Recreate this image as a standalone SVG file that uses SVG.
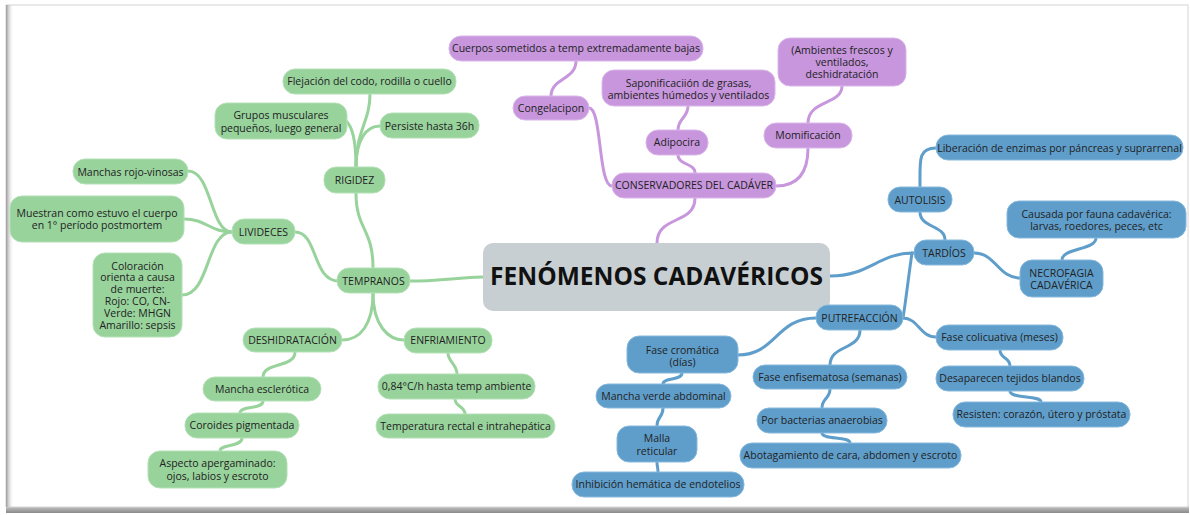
<svg xmlns="http://www.w3.org/2000/svg" width="1190" height="515" viewBox="0 0 1190 515">
<defs>
<linearGradient id="shL" x1="0" y1="0" x2="1" y2="0"><stop offset="0" stop-color="#9a9a9a"/><stop offset="1" stop-color="#ffffff" stop-opacity="0"/></linearGradient>
<linearGradient id="shB" x1="0" y1="0" x2="0" y2="1"><stop offset="0" stop-color="#c8c8c8"/><stop offset="1" stop-color="#8a8a8a"/></linearGradient>
<style>
.t{font-family:"Open Sans","Noto Sans","Liberation Sans",sans-serif;font-size:10.5px;fill:#222222;text-anchor:middle}
.g rect{fill:#98d39c;stroke:#b3e0b6;stroke-width:1}
.p rect{fill:#c796dd;stroke:#dab6ea;stroke-width:1}
.b rect{fill:#5f9ecb;stroke:#86b8dc;stroke-width:1}
.c path{fill:none;stroke-width:3;stroke-linecap:round}
.cg path{stroke:#98d39c}
.cp path{stroke:#c796dd}
.cb path{stroke:#5f9ecb}
</style>
</defs>
<rect x="0" y="0" width="1190" height="515" fill="#ffffff"/>
<rect x="6" y="506" width="1183" height="7" fill="url(#shB)"/>
<rect x="6" y="5" width="1182" height="502" fill="#ffffff" stroke="#d4d4d4" stroke-width="1"/>
<rect x="6" y="5" width="8" height="502" fill="url(#shL)"/>

<g id="connectors" class="c">
<g class="cg">
<path d="M483,277 C450,278 440,281 410,281"/>
<path d="M373,268 C373,228 356,230 356,193"/>
<path d="M339,281 C312,281 318,232 295,232"/>
<path d="M373,293 C373,325 360,340 342,340"/>
<path d="M373,293 C373,325 388,340 404,340"/>
<path d="M356,167 C356,130 370,122 370,94"/>
<path d="M356,167 C356,142 352,126 346,121"/>
<path d="M356,167 C356,140 366,126 380,126"/>
<path d="M232,232 C210,232 212,171 188,171"/>
<path d="M232,232 C210,232 206,219 184,219"/>
<path d="M232,232 C206,232 210,295 182,295"/>
<path d="M295,352 C295,368 263,362 263,377"/>
<path d="M263,401 C263,410 240,405 240,413"/>
<path d="M242,438 C242,447 220,444 220,451"/>
<path d="M448,353 C448,362 457,364 457,374"/>
<path d="M455,399 C455,407 465,406 465,414"/>
</g>
<g class="cp">
<path d="M657,243 C657,215 695,225 695,198"/>
<path d="M589,108 C602,108 598,186 612,186"/>
<path d="M695,173 C695,163 678,165 678,155"/>
<path d="M678,130 C678,118 688,118 688,106"/>
<path d="M776,186 C800,186 808,170 808,148"/>
<path d="M808,123 C808,100 842,105 842,86"/>
<path d="M551,96 C551,78 576,80 576,61"/>
</g>
<g class="cb">
<path d="M830,276 C870,276 878,253 914,253"/>
<path d="M945,240 C945,225 920,228 920,212"/>
<path d="M920,187 C920,160 918,148 936,148"/>
<path d="M974,253 C996,253 998,278 1020,278"/>
<path d="M1062,260 C1062,248 1096,250 1096,238"/>
<path d="M912,253 C908,280 906,300 903,318"/>
<path d="M816,318 C776,318 776,355 738,355"/>
<path d="M860,330 C860,350 830,345 830,365"/>
<path d="M903,318 C918,318 920,337 936,337"/>
<path d="M682,373 C682,381 663,377 663,384"/>
<path d="M663,408 C663,418 657,416 657,426"/>
<path d="M657,462 C657,467 658,467 658,472"/>
<path d="M830,389 C830,399 822,398 822,408"/>
<path d="M822,433 C822,440 850,436 850,443"/>
<path d="M1000,350 C1000,359 1010,357 1010,366"/>
<path d="M1010,391 C1010,399 1041,395 1041,402"/>
</g>
</g>

<g id="n-central"><rect x="483" y="243" width="347" height="68" rx="10" fill="#c8cfd3"/><text x="656.5" y="285" style="font-family:'Open Sans','Noto Sans','Liberation Sans',sans-serif;font-size:24.5px;font-weight:bold;fill:#111;text-anchor:middle">FENÓMENOS CADAVÉRICOS</text></g>

<g id="n-tempranos" class="g"><rect x="337" y="268" width="73" height="25" rx="12"/><text class="t" x="373.5" y="284.5">TEMPRANOS</text></g>
<g id="n-rigidez" class="g"><rect x="324" y="167" width="61" height="26" rx="12"/><text class="t" x="354.5" y="184">RIGIDEZ</text></g>
<g id="n-flejacion" class="g"><rect x="283" y="69" width="173" height="25" rx="12"/><text class="t" x="369.5" y="85">Flejación del codo, rodilla o cuello</text></g>
<g id="n-grupos" class="g"><rect x="215" y="103" width="132" height="36" rx="12"/><text class="t" x="281" y="118.5">Grupos musculares<tspan x="281" y="131.5">pequeños, luego general</tspan></text></g>
<g id="n-persiste" class="g"><rect x="380" y="113" width="99" height="25" rx="12"/><text class="t" x="429.5" y="129.5">Persiste hasta 36h</text></g>
<g id="n-livideces" class="g"><rect x="232" y="219" width="63" height="25" rx="12"/><text class="t" x="263.5" y="235.5">LIVIDECES</text></g>
<g id="n-manchas" class="g"><rect x="73" y="159" width="115" height="25" rx="12"/><text class="t" x="130.5" y="175.5">Manchas rojo-vinosas</text></g>
<g id="n-muestran" class="g"><rect x="10" y="196" width="174" height="46" rx="12"/><text class="t" x="97" y="216.5">Muestran como estuvo el cuerpo<tspan x="97" y="228.5">en 1° período postmortem</tspan></text></g>
<g id="n-coloracion" class="g"><rect x="93" y="253" width="89" height="84" rx="12"/><text class="t" x="137.5" y="269.5">Coloración<tspan x="137.5" y="281.3">orienta a causa</tspan><tspan x="137.5" y="293.1">de muerte:</tspan><tspan x="137.5" y="304.9">Rojo: CO, CN-</tspan><tspan x="137.5" y="316.7">Verde: MHGN</tspan><tspan x="137.5" y="328.5">Amarillo: sepsis</tspan></text></g>
<g id="n-deshidratacion" class="g"><rect x="243" y="328" width="99" height="24" rx="12"/><text class="t" x="292.5" y="343.5">DESHIDRATACIÓN</text></g>
<g id="n-enfriamiento" class="g"><rect x="404" y="328" width="88" height="25" rx="12"/><text class="t" x="448" y="344">ENFRIAMIENTO</text></g>
<g id="n-mancha-esclerotica" class="g"><rect x="203" y="377" width="118" height="24" rx="12"/><text class="t" x="262" y="392.5">Mancha esclerótica</text></g>
<g id="n-coroides" class="g"><rect x="185" y="413" width="114" height="25" rx="12"/><text class="t" x="242" y="429">Coroides pigmentada</text></g>
<g id="n-aspecto" class="g"><rect x="148" y="451" width="139" height="37" rx="12"/><text class="t" x="217.5" y="466.5">Aspecto apergaminado:<tspan x="217.5" y="479.5">ojos, labios y escroto</tspan></text></g>
<g id="n-084" class="g"><rect x="378" y="374" width="157" height="25" rx="12"/><text class="t" x="456.5" y="390">0,84°C/h hasta temp ambiente</text></g>
<g id="n-temperatura" class="g"><rect x="376" y="414" width="179" height="24" rx="12"/><text class="t" x="465.5" y="429.5">Temperatura rectal e intrahepática</text></g>

<g id="n-cuerpos" class="p"><rect x="449" y="36" width="254" height="25" rx="12"/><text class="t" x="576" y="52">Cuerpos sometidos a temp extremadamente bajas</text></g>
<g id="n-congelacipon" class="p"><rect x="513" y="96" width="76" height="24" rx="12"/><text class="t" x="551" y="111.5">Congelacipon</text></g>
<g id="n-saponificacion" class="p"><rect x="602" y="70" width="173" height="36" rx="12"/><text class="t" x="688.5" y="86.5">Saponificaciión de grasas,<tspan x="688.5" y="98.5">ambientes húmedos y ventilados</tspan></text></g>
<g id="n-adipocira" class="p"><rect x="646" y="130" width="62" height="25" rx="12"/><text class="t" x="677" y="146">Adipocira</text></g>
<g id="n-ambientes" class="p"><rect x="778" y="38" width="128" height="48" rx="12"/><text class="t" x="842" y="53.5">(Ambientes frescos y<tspan x="842" y="65.5">ventilados,</tspan><tspan x="842" y="77.5">deshidratación</tspan></text></g>
<g id="n-momificacion" class="p"><rect x="764" y="123" width="88" height="25" rx="12"/><text class="t" x="808" y="139">Momificación</text></g>
<g id="n-conservadores" class="p"><rect x="612" y="173" width="164" height="25" rx="12"/><text class="t" x="694" y="189">CONSERVADORES DEL CADÁVER</text></g>

<g id="n-liberacion" class="b"><rect x="936" y="135" width="247" height="25" rx="12"/><text class="t" x="1059.5" y="151.5">Liberación de enzimas por páncreas y suprarrenal</text></g>
<g id="n-autolisis" class="b"><rect x="888" y="187" width="64" height="25" rx="12"/><text class="t" x="920" y="203.5">AUTOLISIS</text></g>
<g id="n-tardios" class="b"><rect x="914" y="240" width="60" height="25" rx="12"/><text class="t" x="944" y="256.5">TARDÍOS</text></g>
<g id="n-causada" class="b"><rect x="1007" y="201" width="179" height="37" rx="12"/><text class="t" x="1096.5" y="217.5">Causada por fauna cadavérica:<tspan x="1096.5" y="229.5">larvas, roedores, peces, etc</tspan></text></g>
<g id="n-necrofagia" class="b"><rect x="1020" y="260" width="83" height="37" rx="12"/><text class="t" x="1061.5" y="276.5">NECROFAGIA<tspan x="1061.5" y="288.5">CADAVÉRICA</tspan></text></g>
<g id="n-putrefaccion" class="b"><rect x="816" y="305" width="87" height="25" rx="12"/><text class="t" x="859.5" y="321.5">PUTREFACCIÓN</text></g>
<g id="n-fase-cromatica" class="b"><rect x="627" y="336" width="111" height="37" rx="12"/><text class="t" x="682.5" y="353.5">Fase cromática<tspan x="682.5" y="365.5">(días)</tspan></text></g>
<g id="n-mancha-verde" class="b"><rect x="596" y="384" width="135" height="24" rx="12"/><text class="t" x="663.5" y="400">Mancha verde abdominal</text></g>
<g id="n-malla" class="b"><rect x="617" y="426" width="80" height="36" rx="12"/><text class="t" x="657" y="441.5">Malla<tspan x="657" y="454.5">reticular</tspan></text></g>
<g id="n-inhibicion" class="b"><rect x="572" y="472" width="172" height="25" rx="12"/><text class="t" x="658" y="488">Inhibición hemática de endotelios</text></g>
<g id="n-enfisematosa" class="b"><rect x="753" y="365" width="154" height="24" rx="12"/><text class="t" x="830" y="380.5">Fase enfisematosa (semanas)</text></g>
<g id="n-bacterias" class="b"><rect x="757" y="408" width="130" height="25" rx="12"/><text class="t" x="822" y="424">Por bacterias anaerobias</text></g>
<g id="n-abotagamiento" class="b"><rect x="740" y="443" width="221" height="25" rx="12"/><text class="t" x="850.5" y="459">Abotagamiento de cara, abdomen y escroto</text></g>
<g id="n-colicuativa" class="b"><rect x="936" y="325" width="127" height="25" rx="12"/><text class="t" x="999.5" y="341">Fase colicuativa (meses)</text></g>
<g id="n-desaparecen" class="b"><rect x="936" y="366" width="148" height="25" rx="12"/><text class="t" x="1010" y="382">Desaparecen tejidos blandos</text></g>
<g id="n-resisten" class="b"><rect x="953" y="402" width="177" height="25" rx="12"/><text class="t" x="1041.5" y="418">Resisten: corazón, útero y próstata</text></g>
</svg>
